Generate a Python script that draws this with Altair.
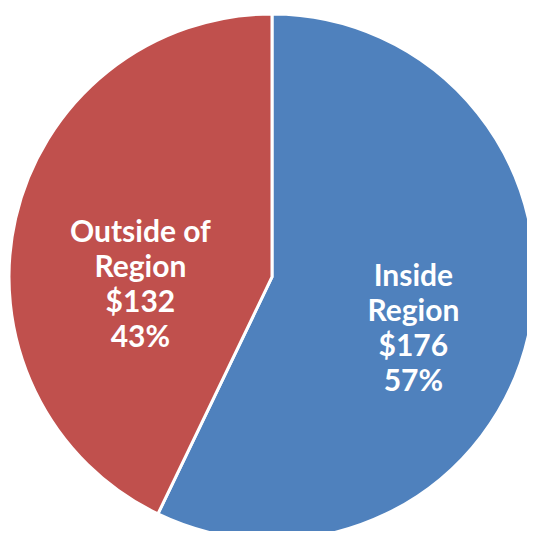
import altair as alt
import pandas as pd

categories = ["Inside Region", "Outside of Region"]
label_names = ["Inside\nRegion", "Outside of\nRegion"]
values = [176, 132]
percents = [57, 43]
colors = ["#4F81BD", "#C0504D"]

df = pd.DataFrame({
    "category": categories,
    "value": values,
    "order": [0, 1],
    "label": [f"{n}\n${v}\n{p}%" for n, v, p in zip(label_names, values, percents)],
})

W, H = 519, 523
CX, CY = 264, 269
R = 263

base = alt.Chart(df).encode(
    theta=alt.Theta("value:Q", stack=True),
    order=alt.Order("order:Q"),
)

pie = base.mark_arc(stroke="white", strokeWidth=3, radius=R).encode(
    color=alt.Color("category:N", scale=alt.Scale(domain=categories, range=colors), legend=None),
    x=alt.value(CX),
    y=alt.value(CY),
)

text_style = dict(font="Lato", fontSize=30, fontWeight="bold", color="white",
                  lineBreak="\n", lineHeight=35, align="center", baseline="middle")

t_in = base.mark_text(radius=145, dy=-32, **text_style).encode(
    text="label:N", x=alt.value(CX), y=alt.value(CY),
    opacity=alt.condition(alt.datum.category == categories[0], alt.value(1), alt.value(0)),
)
t_out = base.mark_text(radius=135, dy=-14, **text_style).encode(
    text="label:N", x=alt.value(CX), y=alt.value(CY),
    opacity=alt.condition(alt.datum.category == categories[1], alt.value(1), alt.value(0)),
)

chart = alt.layer(pie, t_in, t_out).properties(
    width=W, height=H, padding=0, autosize=alt.AutoSizeParams(type="none")
).configure_view(stroke=None)

chart.save("out.html", embed_options={"renderer": "svg", "actions": False})
